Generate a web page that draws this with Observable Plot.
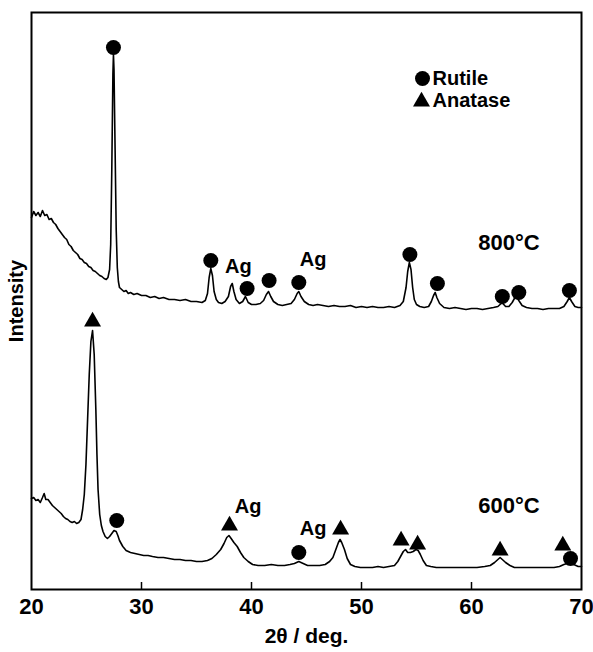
<!DOCTYPE html>
<html>
<head>
<meta charset="utf-8">
<script src="https://cdn.jsdelivr.net/npm/d3@7"></script>
<script src="https://cdn.jsdelivr.net/npm/@observablehq/plot@0.6"></script>
<style>
  html, body { margin: 0; padding: 0; background: #fff; }
</style>
</head>
<body>
<div id="chart"></div>
<script>
// ---- Data (2θ in degrees, intensity in arbitrary units) ----
const xTicks = [20, 30, 40, 50, 60, 70];

const angles800 = [20.0,20.2,20.4,20.6,20.8,21.0,21.2,21.4,21.6,21.8,22.0,22.2,22.4,22.6,22.8,23.0,23.2,23.4,23.6,23.8,24.0,24.2,24.4,24.6,24.8,25.0,25.2,25.4,25.6,25.8,26.0,26.2,26.4,26.6,26.8,26.95,27.1,27.2,27.3,27.4,27.45,27.5,27.6,27.7,27.8,27.9,28.0,28.2,28.4,28.6,28.8,29.0,29.3,29.6,30.0,30.4,30.8,31.2,31.6,32.0,32.5,33.0,33.5,34.0,34.5,35.0,35.5,35.8,36.0,36.15,36.3,36.45,36.6,36.8,37.0,37.3,37.6,37.9,38.1,38.25,38.4,38.6,38.9,39.2,39.45,39.7,40.0,40.4,40.8,41.1,41.35,41.55,41.75,42.0,42.4,42.8,43.2,43.6,43.9,44.15,44.3,44.5,44.8,45.2,45.6,46.0,46.5,47.0,47.5,48.0,48.5,49.0,49.5,50.0,50.5,51.0,51.5,52.0,52.5,53.0,53.5,53.8,54.05,54.2,54.35,54.5,54.65,54.8,55.0,55.3,55.7,56.1,56.35,56.55,56.7,56.85,57.1,57.5,58.0,58.5,59.0,59.5,60.0,60.5,61.0,61.5,62.0,62.4,62.7,62.85,63.1,63.4,63.7,63.95,64.1,64.3,64.6,65.0,65.5,66.0,66.5,67.0,67.5,68.0,68.4,68.7,68.9,69.1,69.4,69.7,70.0];
const counts800 = [372,378,374,377,373,379,374,375,370,371,367,365,361,358,355,352,350,345,343,339,337,335,331,330,327,326,323,322,319,318,316,314,313,311,310,312,320,345,420,515,535,520,440,360,322,308,302,300,298,299,296,297,295,296,294,294,292,293,291,292,290,290,289,290,288,288,287,289,296,312,321,314,298,290,287,286,288,293,303,306,298,290,286,288,293,287,285,285,286,289,295,298,293,288,285,284,285,286,290,296,298,293,288,285,284,285,284,283,284,283,283,284,282,283,282,283,282,282,283,282,284,288,302,318,327,320,302,290,285,283,282,283,288,294,297,292,286,282,281,282,281,280,281,281,280,281,282,283,286,286,283,283,287,292,293,289,284,282,281,281,280,281,281,281,283,288,292,288,283,282,282];

const angles600 = [20.0,20.2,20.4,20.6,20.8,21.0,21.15,21.3,21.5,21.7,21.9,22.1,22.3,22.5,22.7,22.9,23.1,23.3,23.5,23.7,23.9,24.1,24.3,24.5,24.65,24.8,24.95,25.1,25.25,25.4,25.55,25.7,25.85,25.95,26.05,26.2,26.35,26.5,26.7,26.9,27.1,27.3,27.5,27.7,27.85,28.0,28.3,28.6,29.0,29.4,29.8,30.2,30.6,31.0,31.5,32.0,32.5,33.0,33.5,34.0,34.5,35.0,35.5,36.0,36.4,36.8,37.2,37.5,37.75,37.95,38.15,38.4,38.7,39.0,39.3,39.7,40.1,40.6,41.2,41.8,42.4,43.0,43.5,43.9,44.3,44.7,45.1,45.6,46.2,46.7,47.1,47.4,47.7,47.9,48.05,48.2,48.45,48.7,49.0,49.4,49.9,50.5,51.0,51.5,52.0,52.5,53.0,53.3,53.55,53.8,54.0,54.2,54.45,54.7,54.95,55.15,55.35,55.6,55.9,56.3,56.8,57.5,58.2,59.0,59.8,60.5,61.2,61.7,62.1,62.4,62.6,62.8,63.1,63.5,63.9,64.5,65.2,66.0,66.8,67.5,68.0,68.4,68.7,69.0,69.3,69.7,70.0];
const counts600 = [91,92,89,90,87,92,96,90,90,87,84,82,80,78,76,73,71,70,68,67,68,66,67,70,80,95,125,170,215,248,259,235,180,135,100,75,64,58,53,51,53,56,59,58,54,49,43,39,37,36,35,34,34,33,32,32,31,30,30,29,29,28,28,29,31,35,40,46,52,54,51,47,43,37,32,28,25,24,24,25,24,24,25,26,28,26,24,24,24,25,28,32,41,47,50,47,40,31,25,23,22,22,22,23,22,23,24,28,33,38,40,37,37,38,40,39,35,29,24,23,22,22,22,22,22,22,23,24,27,30,32,30,27,24,22,22,22,22,22,22,23,25,26,27,25,23,23];

// Phase markers
const rutile800Angles = [27.45, 36.3, 39.6, 41.6, 44.3, 54.4, 56.9, 62.8, 64.3, 68.9];
const rutile800Heights = [542, 329, 301, 309, 307, 335, 306, 293, 297, 299];
const rutile600Angles = [27.75, 44.3, 69.0];
const rutile600Heights = [69, 37, 31];
const anatase600Angles = [25.55, 38.0, 48.1, 53.6, 55.1, 62.6, 68.3];
const anatase600Heights = [268, 64, 60, 49, 45, 39, 44];

// Annotations
const agAngles = [38.8, 45.6, 39.7, 45.6];
const agHeights = [323, 330, 83, 61];
const tempLabels = ["800°C", "600°C"];
const tempAngles = [63.4, 63.4];
const tempHeights = [347, 84];

const legendLabels = ["Rutile", "Anatase"];
const legendSymbols = ["circle", "triangle"];

// ---- Build tables ----
const curve800 = angles800.map((a, i) => ({a, c: counts800[i]}));
const curve600 = angles600.map((a, i) => ({a, c: counts600[i]}));
const rutile = rutile800Angles.map((a, i) => ({a, c: rutile800Heights[i]}))
  .concat(rutile600Angles.map((a, i) => ({a, c: rutile600Heights[i]})));
const anatase = anatase600Angles.map((a, i) => ({a, c: anatase600Heights[i]}));
const ags = agAngles.map((a, i) => ({a, c: agHeights[i], t: "Ag"}));
const temps = tempLabels.map((t, i) => ({a: tempAngles[i], c: tempHeights[i], t}));

const font = "'Liberation Sans', Arial, Helvetica, sans-serif";

const chart = Plot.plot({
  width: 593,
  height: 652,
  marginLeft: 31,
  marginRight: 12,
  marginTop: 12,
  marginBottom: 63,
  style: {fontFamily: font, fontSize: "21px", fontWeight: "bold", background: "#fff", color: "#000"},
  x: {domain: [20, 70], ticks: xTicks},
  y: {domain: [0, 577], axis: null},
  marks: [
    Plot.frame({stroke: "black", strokeWidth: 2}),
    Plot.ruleX(xTicks.slice(1, -1), {y1: 0, y2: 7, stroke: "black", strokeWidth: 1.5}),
    Plot.axisX({ticks: xTicks, tickSize: 0, tickPadding: 9, tickFormat: d => String(d), label: null, fontSize: 22}),
    Plot.text(["2θ / deg."], {frameAnchor: "bottom", dy: 47, lineAnchor: "middle", textAnchor: "middle", fontSize: 21}),
    Plot.text(["Intensity"], {frameAnchor: "left", dx: -15, rotate: -90, lineAnchor: "middle", textAnchor: "middle", fontSize: 20}),
    Plot.line(curve800, {x: "a", y: "c", stroke: "black", strokeWidth: 1.6}),
    Plot.line(curve600, {x: "a", y: "c", stroke: "black", strokeWidth: 1.6}),
    Plot.dot(rutile, {x: "a", y: "c", r: 7.5, fill: "black", stroke: "none"}),
    Plot.dot(anatase, {x: "a", y: "c", r: 6.3, symbol: "triangle", fill: "black", stroke: "none"}),
    Plot.text(ags, {x: "a", y: "c", text: "t", fontSize: 20}),
    Plot.text(temps, {x: "a", y: "c", text: "t", fontSize: 22}),
    // Legend
    Plot.dot([legendLabels[0]], {frameAnchor: "top-right", dx: -159, dy: 66, r: 7.5, fill: "black", stroke: "none"}),
    Plot.dot([legendLabels[1]], {frameAnchor: "top-right", dx: -160, dy: 89, r: 6.3, symbol: legendSymbols[1], fill: "black", stroke: "none"}),
    Plot.text([legendLabels[0]], {frameAnchor: "top-right", dx: -149, dy: 66, text: d => d, textAnchor: "start", lineAnchor: "middle", fontSize: 20}),
    Plot.text([legendLabels[1]], {frameAnchor: "top-right", dx: -149, dy: 88, text: d => d, textAnchor: "start", lineAnchor: "middle", fontSize: 20}),
  ]
});

document.getElementById("chart").appendChild(chart);
</script>
</body>
</html>
